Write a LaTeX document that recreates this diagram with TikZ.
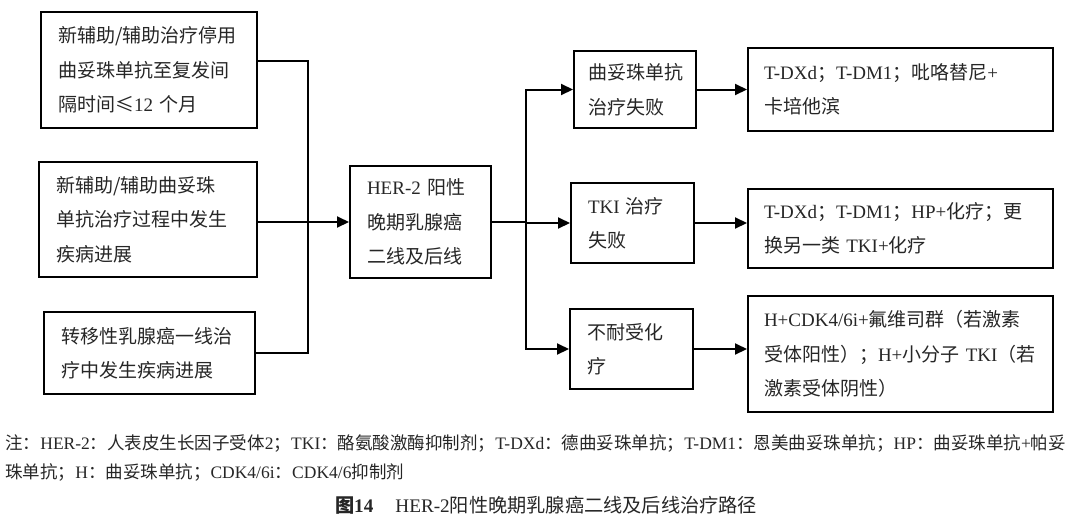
\documentclass[tikz,border=0pt]{standalone}
\usepackage{fontspec}
\setmainfont{Liberation Serif}
\newfontfamily\cjk{Noto Sans CJK SC}
\usetikzlibrary{arrows.meta}
\newcommand{\en}[1]{{\rmfamily #1}}

\begin{document}
\begin{tikzpicture}[x=0.5pt, y=-0.5pt, >={Stealth[inset=0pt, length=6pt, width=5.5pt]},
  box/.style={draw, line width=1pt, align=left, inner xsep=8.5pt, inner ysep=0pt, text=black!85,
    font=\cjk\fontsize{9.5}{17.2}\selectfont},
  link/.style={line width=1pt},
  note/.style={anchor=west, inner sep=0pt, text=black!85, font=\cjk\fontsize{8.75}{10}\selectfont}]
\useasboundingbox (0,0) rectangle (1080,525);

% entry situations
\node[box, text width=91pt, minimum height=58pt] (L1) at (149,70)
  {新辅助/辅助治疗停用\\曲妥珠单抗至复发间\\隔时间≤\en{12}~个月};
\node[box, text width=92pt, minimum height=57.5pt] (L2) at (148,219.5)
  {新辅助/辅助曲妥珠\\单抗治疗过程中发生\\疾病进展};
\node[box, text width=88.5pt, minimum height=41pt] (L3) at (149.5,353)
  {转移性乳腺癌一线治\\疗中发生疾病进展};

% central box
\node[box, text width=53.5pt, minimum height=56pt] (C) at (420.5,222)
  {\en{HER-2}~阳性\\晚期乳腺癌\\二线及后线};

% failure types
\node[box, inner xsep=7pt, text width=47pt, minimum height=38.5pt] (M1) at (635,89.5)
  {曲妥珠单抗\\治疗失败};
\node[box, text width=44.5pt, minimum height=40pt] (M2) at (632.5,223)
  {\en{TKI}~治疗\\失败};
\node[box, text width=44.5pt, minimum height=40pt] (M3) at (631.5,349)
  {不耐受化\\疗};

% regimens
\node[box, inner xsep=8pt, text width=136.5pt, minimum height=41.5pt] (R1) at (900.5,89.5)
  {\en{T-DXd}；\en{T-DM1}；吡咯替尼\en{+}\\卡培他滨};
\node[box, inner xsep=8pt, text width=136.5pt, minimum height=39.5pt] (R2) at (900.5,228.5)
  {\en{T-DXd}；\en{T-DM1}；\en{HP+}化疗；更\\换另一类~\en{TKI+}化疗};
\node[box, inner xsep=8pt, text width=136.5pt, minimum height=58pt] (R3) at (900.5,354)
  {\en{H+CDK4/6i+}氟维司群（若激素\\受体阳性）；\en{H+}小分子~\en{TKI}（若\\激素受体阴性）};

% connectors
\coordinate (bL) at (308,222);
\coordinate (bR) at (526,222);
\draw[link] ([yshift=4.5pt]L1.east) -| (bL) |- (L3.east);
\draw[link,->] (L2.east |- C.west) -- (C.west);
\draw[link] (C.east) -- (bR);
\draw[link,->] (bR) |- (M1.west);
\draw[link,->] (bR) |- (M2.west);
\draw[link,->] (bR) |- (M3.west);
\draw[link,->] (M1.east) -- (M1.east -| R1.west);
\draw[link,->] (M2.east) -- (M2.east -| R2.west);
\draw[link,->] (M3.east) -- (M3.east -| R3.west);

% note and caption
\node[note] (n1) at (5,443)
  {注：\en{HER-2}：人表皮生长因子受体\en{2}；\en{TKI}：酪氨酸激酶抑制剂；\en{T-DXd}：德曲妥珠单抗；\en{T-DM1}：恩美曲妥珠单抗；\en{HP}：曲妥珠单抗\en{+}帕妥};
\node[note] (n2) at (5,472)
  {珠单抗；\en{H}：曲妥珠单抗；\en{CDK4/6i}：\en{CDK4/6}抑制剂};
\node[inner sep=0pt, text=black!85, font=\cjk\fontsize{9.6}{11}\selectfont] (cap) at (546,505)
  {{\bfseries 图\en{14}}\hspace{11pt}\en{HER-2}阳性晚期乳腺癌二线及后线治疗路径};
\end{tikzpicture}
\end{document}
